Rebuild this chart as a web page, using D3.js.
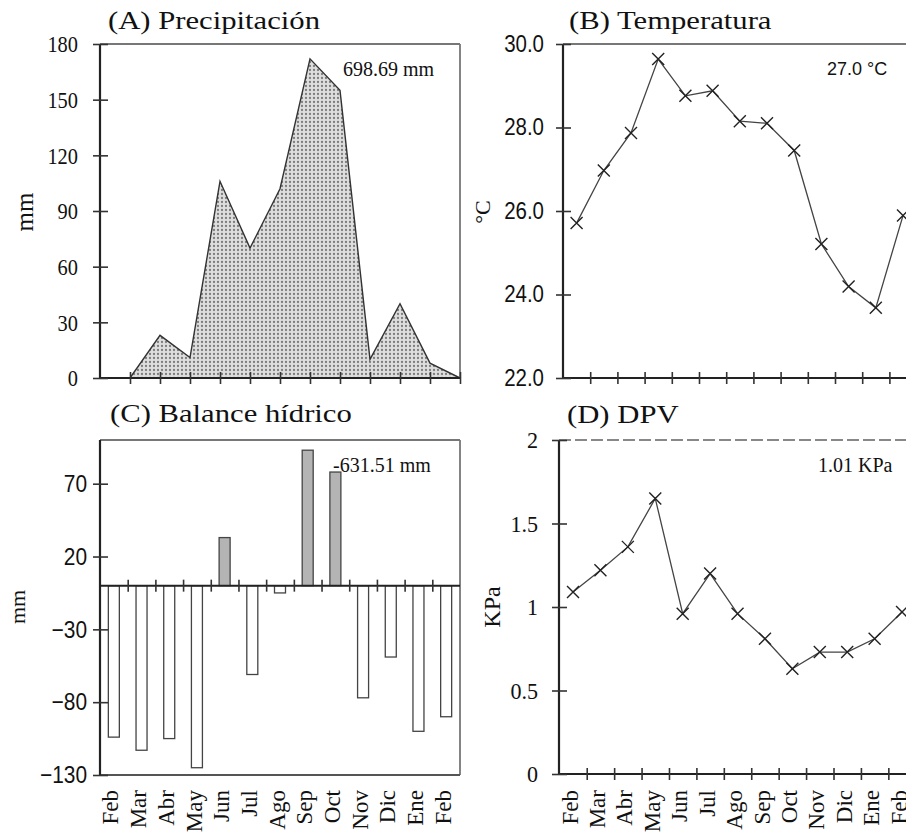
<!DOCTYPE html>
<html lang="es">
<head>
<meta charset="UTF-8">
<title>Clima mensual</title>
<script src="https://cdn.jsdelivr.net/npm/d3@7"></script>
<style>
  body { margin: 0; background: #fff; }
</style>
</head>
<body>
<div id="viz"></div>
<script>
// data
const months = ["Feb", "Mar", "Abr", "May", "Jun", "Jul", "Ago", "Sep", "Oct", "Nov", "Dic", "Ene", "Feb"]
const precip = [0, 0, 23, 11, 106, 70, 102, 172, 155, 10, 40, 8, 0]
const temp = [25.71, 26.97, 27.87, 29.64, 28.76, 28.88, 28.15, 28.10, 27.45, 25.21, 24.19, 23.68, 25.89]
const balance = [-104, -113, -105, -125, 33, -61, -5, 93, 78, -77, -49, -100, -90]
const dpv = [1.09, 1.22, 1.36, 1.65, 0.96, 1.20, 0.96, 0.81, 0.63, 0.73, 0.73, 0.81, 0.97]

const precipTicks = [0, 30, 60, 90, 120, 150, 180]
const tempTicks = [22, 24, 26, 28, 30]
const balanceTicks = [-130, -80, -30, 20, 70]
const dpvTicks = [0, 0.5, 1, 1.5, 2]

const idx = d3.range(months.length)
const serif = "'Liberation Serif', 'Times New Roman', serif"
const sans = "'Liberation Sans', Arial, sans-serif"
const dark = "#222"
const grey = "#777"

const svg = d3.select("#viz").append("svg")
    .attr("width", 906)
    .attr("height", 832)

const pat = svg.append("defs").append("pattern")
    .attr("id", "dots")
    .attr("width", 4).attr("height", 4)
    .attr("patternUnits", "userSpaceOnUse")
pat.append("rect").attr("width", 4).attr("height", 4).attr("fill", "#dedede")
pat.append("circle").attr("cx", 2).attr("cy", 2).attr("r", 1.15).attr("fill", "#7d7d7d")

// ---- helpers
function title(x, y, txt) {
    svg.append("text")
        .attr("transform", `translate(${x},${y}) scale(1.18,1)`)
        .attr("font-family", serif)
        .attr("font-size", 26)
        .attr("fill", "#111")
        .text(txt)
}

function yLabel(x, y, txt, size) {
    svg.append("text")
        .attr("transform", `translate(${x},${y}) rotate(-90)`)
        .attr("text-anchor", "middle")
        .attr("font-family", serif)
        .attr("font-size", size)
        .attr("fill", "#111")
        .text(txt)
}

function note(x, y, txt, font, size) {
    svg.append("text")
        .attr("x", x).attr("y", y)
        .attr("font-family", font)
        .attr("font-size", size)
        .attr("fill", "#111")
        .text(txt)
}

function line(x1, y1, x2, y2, color, w, dash) {
    svg.append("line")
        .attr("x1", x1).attr("y1", y1).attr("x2", x2).attr("y2", y2)
        .attr("stroke", color).attr("stroke-width", w)
        .attr("stroke-dasharray", dash || null)
}

function yAxis(scale, x, ticks, fmt, font, size, sx, gap) {
    const g = svg.append("g")
        .attr("transform", `translate(${x},0)`)
        .call(d3.axisLeft(scale).tickValues(ticks).tickFormat(fmt).tickSize(7).tickSizeOuter(0))
    g.select(".domain").remove()
    g.selectAll(".tick line").attr("x1", 8).attr("x2", -7).attr("stroke", "#333").attr("stroke-width", 1.6)
    g.selectAll(".tick text")
        .attr("x", -gap / sx)
        .attr("transform", `scale(${sx},1)`)
        .attr("font-family", font)
        .attr("font-size", size)
        .attr("fill", "#111")
    return g
}

// crossing ticks at band edges
function edgeTicks(scale, y, values) {
    const g = svg.append("g")
        .attr("transform", `translate(0,${y})`)
        .call(d3.axisBottom(scale).tickValues(values).tickFormat("").tickSize(6).tickSizeOuter(0))
    g.select(".domain").remove()
    g.selectAll(".tick line").attr("y1", -6).attr("y2", 6).attr("stroke", "#333").attr("stroke-width", 1.6)
}

function monthLabels(scale, y, endAt) {
    const g = svg.append("g")
        .attr("transform", `translate(0,${y})`)
        .call(d3.axisBottom(scale).tickFormat(i => months[i]).tickSize(0))
    g.select(".domain").remove()
    g.selectAll(".tick text")
        .attr("transform", "rotate(-90)")
        .attr("text-anchor", "end")
        .attr("x", -(endAt - y))
        .attr("y", 0)
        .attr("dy", "0.2em")
        .attr("font-family", serif)
        .attr("font-size", 23)
        .attr("fill", "#111")
}

function crosses(xs, ys, data) {
    svg.append("g").selectAll("path")
        .data(data)
        .join("path")
        .attr("transform", (d, i) => `translate(${xs(i)},${ys(d)})`)
        .attr("d", "M-6,-6L6,6M-6,6L6,-6")
        .attr("stroke", dark)
        .attr("stroke-width", 1.4)
        .attr("fill", "none")
}

// ---- (A) Precipitación
const xA = d3.scalePoint().domain(idx).range([100, 460])
const yA = d3.scaleLinear().domain([0, 180]).range([378, 44])

svg.append("path")
    .datum(precip)
    .attr("d", d3.area().x((d, i) => xA(i)).y0(yA(0)).y1(d => yA(d)))
    .attr("fill", "url(#dots)")
    .attr("stroke", "#333")
    .attr("stroke-width", 1.4)

line(100, yA(180), 460, yA(180), grey, 1.8)
line(460, yA(180), 460, yA(0), grey, 1.8)
line(100, yA(180), 100, yA(0), dark, 2.2)
line(100, yA(0), 460, yA(0), dark, 2.2)
edgeTicks(xA, yA(0), idx.slice(1))
yAxis(yA, 100, precipTicks, d3.format("d"), serif, 24, 0.85, 22)
title(108, 29, "(A) Precipitación")
yLabel(33, 212, "mm", 25)
note(343, 76, "698.69 mm", serif, 20)

// ---- (B) Temperatura
const xB = d3.scaleBand().domain(idx).range([563, 563 + 13 * 27.2])
const eB = d3.scaleLinear().domain([0, 13]).range(xB.range())
const yB = d3.scaleLinear().domain([22, 30]).range([378, 44])
const cB = i => xB(i) + xB.bandwidth() / 2

line(563, yB(30), 906, yB(30), grey, 1.8)
line(563, yB(30), 563, yB(22), dark, 2.2)
line(563, yB(22), 906, yB(22), dark, 2.2)
edgeTicks(eB, yB(22), d3.range(1, 13))

svg.append("path")
    .datum(temp)
    .attr("d", d3.line().x((d, i) => cB(i)).y(d => yB(d)))
    .attr("fill", "none")
    .attr("stroke", "#444")
    .attr("stroke-width", 1.3)
crosses(cB, yB, temp)

yAxis(yB, 563, tempTicks, d3.format(".1f"), sans, 23, 0.89, 19)
title(569, 29, "(B) Temperatura")
yLabel(490, 212, "°C", 22)
note(827, 75, "27.0 °C", sans, 18)

// ---- (C) Balance hídrico
const xC = d3.scaleBand().domain(idx).range([100, 460])
const eC = d3.scaleLinear().domain([0, 13]).range(xC.range())
const yC = d3.scaleLinear().domain([-130, 100]).range([775, 440])
const barW = 11

line(100, yC(100), 460, yC(100), grey, 1.8)
line(460, yC(100), 460, yC(-130), grey, 1.8)
line(100, yC(-130), 460, yC(-130), "#555", 2)

svg.append("g").selectAll("rect")
    .data(balance)
    .join("rect")
    .attr("x", (d, i) => xC(i) + xC.bandwidth() / 2 - barW / 2)
    .attr("y", d => yC(Math.max(0, d)))
    .attr("width", barW)
    .attr("height", d => Math.abs(yC(d) - yC(0)))
    .attr("fill", d => d > 0 ? "#b4b4b4" : "#fff")
    .attr("stroke", "#444")
    .attr("stroke-width", 1.3)

line(100, yC(0), 460, yC(0), dark, 2)
edgeTicks(eC, yC(0), d3.range(1, 13))
line(100, yC(100), 100, yC(-130), dark, 2.2)
yAxis(yC, 100, balanceTicks, d3.format("d"), sans, 24, 0.87, 13)
monthLabels(xC, yC(-130), 790)
title(110, 422, "(C) Balance hídrico")
yLabel(25, 607, "mm", 22)
note(333, 472, "-631.51 mm", serif, 20)

// ---- (D) DPV
const xD = d3.scaleBand().domain(idx).range([559.3, 559.3 + 13 * 27.42])
const eD = d3.scaleLinear().domain([0, 13]).range(xD.range())
const yD = d3.scaleLinear().domain([0, 2]).range([774, 440])
const cD = i => xD(i) + xD.bandwidth() / 2

line(559, yD(2), 906, yD(2), "#888", 2, "12,4")
line(559, yD(2), 559, yD(0), dark, 2.2)
line(559, yD(0), 906, yD(0), dark, 2.2)
edgeTicks(eD, yD(0), d3.range(1, 13))

svg.append("path")
    .datum(dpv)
    .attr("d", d3.line().x((d, i) => cD(i)).y(d => yD(d)))
    .attr("fill", "none")
    .attr("stroke", "#444")
    .attr("stroke-width", 1.3)
crosses(cD, yD, dpv)

yAxis(yD, 559, dpvTicks, d3.format("~g"), serif, 24, 0.92, 21)
monthLabels(xD, yD(0), 790)
title(567, 423, "(D) DPV")
yLabel(500, 607, "KPa", 24)
note(818, 472, "1.01 KPa", serif, 20)
</script>
</body>
</html>
